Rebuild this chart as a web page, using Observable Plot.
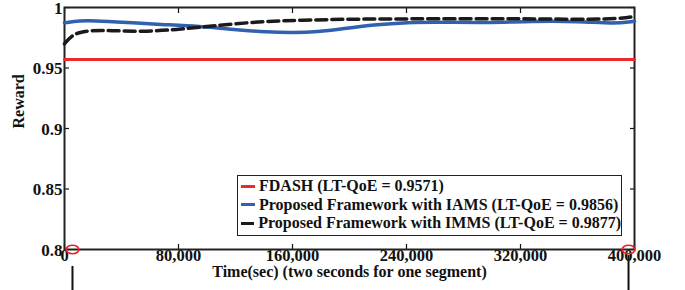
<!DOCTYPE html>
<html>
<head>
<meta charset="utf-8">
<script src="https://cdn.jsdelivr.net/npm/d3@7"></script>
<script src="https://cdn.jsdelivr.net/npm/@observablehq/plot@0.6"></script>
<style>
  body { margin: 0; background: #fff; }
  #wrap { position: relative; width: 685px; height: 290px; }
  #legend {
    position: absolute; left: 237px; top: 175px; width: 383px; height: 58px;
    border: 1.5px solid #222; background: #fff; box-sizing: content-box;
    font: bold 16px "Liberation Serif", "Times New Roman", serif; color: #111;
    padding-top: 1px;
  }
  #legend .row { display: flex; align-items: center; height: 18.5px; white-space: nowrap; }
  #legend .sw { width: 14px; height: 3px; margin: 0 4px 0 3px; }
</style>
</head>
<body>
<div id="wrap"></div>
<script>
// ---- data ----
const seriesLabels = [
  "FDASH (LT-QoE = 0.9571)",
  "Proposed Framework with IAMS (LT-QoE = 0.9856)",
  "Proposed Framework with IMMS (LT-QoE = 0.9877)"
];
const seriesColors = ["#ec2a2b", "#3061ae", "#1a1a1a"];

const fdashX = [0, 400000];
const fdashY = [0.957, 0.957];

const iamsX = [0, 11000, 20000, 44000, 67000, 95000, 119000, 142000, 161000, 178000, 194000, 217000, 241000, 264000, 299000, 327000, 362000, 385000, 400000];
const iamsY = [0.9874, 0.9891, 0.9892, 0.9876, 0.9860, 0.9845, 0.9818, 0.9797, 0.9791, 0.9800, 0.9822, 0.9857, 0.9878, 0.9879, 0.9874, 0.9886, 0.9886, 0.9866, 0.9886];

const immsX = [0, 5000, 11000, 18000, 32000, 55000, 79000, 100000, 119000, 142000, 166000, 199000, 241000, 299000, 327000, 385000, 400000];
const immsY = [0.970, 0.9769, 0.9796, 0.9810, 0.9810, 0.9800, 0.9818, 0.9843, 0.9865, 0.9886, 0.9895, 0.9904, 0.9906, 0.9909, 0.9906, 0.9900, 0.9926];

const xTicks = [0, 80000, 160000, 240000, 320000, 400000];
const yTicks = [0.8, 0.85, 0.9, 0.95, 1];
const yTickLabels = ["0.8", "0.85", "0.9", "0.95", "1"];

// annotation markers (red circles on the x axis and black lines below)
const markerX = [5600, 395800];
const markerY = [0.8, 0.8];
const markerLineTop = [0.786, 0.795];
const markerLineBottom = [0.76, 0.76];

const xLabel = "Time(sec) (two seconds for one segment)";
const yLabel = "Reward";

// ---- build tables ----
const series = [
  {x: fdashX, y: fdashY},
  {x: iamsX, y: iamsY},
  {x: immsX, y: immsY}
].map((s, i) => s.x.map((x, j) => ({x, y: s.y[j], k: i})));

const markers = markerX.map((x, i) => ({x, y: markerY[i], y1: markerLineTop[i], y2: markerLineBottom[i]}));

const ellipse = {
  draw(ctx) {
    const rx = 6.5, ry = 4.2, k = 0.5523;
    ctx.moveTo(rx, 0);
    ctx.bezierCurveTo(rx, ry * k, rx * k, ry, 0, ry);
    ctx.bezierCurveTo(-rx * k, ry, -rx, ry * k, -rx, 0);
    ctx.bezierCurveTo(-rx, -ry * k, -rx * k, -ry, 0, -ry);
    ctx.bezierCurveTo(rx * k, -ry, rx, -ry * k, rx, 0);
    ctx.closePath();
  }
};

const fmtX = d3.format(",");
const fmtY = d => yTickLabels[yTicks.indexOf(d)];
const font = "'Liberation Serif', 'Times New Roman', serif";

const chart = Plot.plot({
  width: 685,
  height: 290,
  marginLeft: 64,
  marginRight: 51,
  marginTop: 7,
  marginBottom: 41,
  style: {fontFamily: font, fontSize: "17px", fontWeight: "bold", color: "#111", background: "white"},
  x: {domain: [0, 400000]},
  y: {domain: [0.8, 1]},
  marks: [
    // tick labels
    Plot.axisX(xTicks, {anchor: "bottom", tickSize: 0, tickPadding: 0, tickFormat: fmtX, label: null, fontSize: 16.5}),
    Plot.axisY(yTicks, {anchor: "left", tickSize: 0, tickPadding: 2, tickFormat: fmtY, label: null, fontSize: 17, dy: 1}),
    // inward tick marks on all four sides
    Plot.axisX(xTicks, {anchor: "bottom", tickSize: -5, tickFormat: () => "", label: null, strokeWidth: 1.2}),
    Plot.axisX(xTicks, {anchor: "top", tickSize: -5, tickFormat: () => "", label: null, strokeWidth: 1.2}),
    Plot.axisY(yTicks, {anchor: "left", tickSize: -5, tickFormat: () => "", label: null, strokeWidth: 1.2}),
    Plot.axisY(yTicks, {anchor: "right", tickSize: -5, tickFormat: () => "", label: null, strokeWidth: 1.2}),
    Plot.frame({stroke: "#222", strokeWidth: 2}),
    // series
    Plot.line(series[0], {x: "x", y: "y", stroke: seriesColors[0], strokeWidth: 3}),
    Plot.line(series[1], {x: "x", y: "y", stroke: seriesColors[1], strokeWidth: 3.5, curve: "basis"}),
    Plot.line(series[2], {x: "x", y: "y", stroke: seriesColors[2], strokeWidth: 3.5, curve: "basis", strokeDasharray: "11,5"}),
    // markers
    Plot.ruleX(markers, {x: "x", y1: "y1", y2: "y2", stroke: "#111", strokeWidth: 2}),
    Plot.dot(markers, {x: "x", y: "y", symbol: ellipse, stroke: "#e8232a", strokeWidth: 1.6, fill: "none"}),
    // axis titles
    Plot.text([xLabel], {frameAnchor: "bottom", dy: 27, text: d => d, fontSize: 16, fontWeight: "bold"}),
    Plot.text([yLabel], {frameAnchor: "left", dx: -46, rotate: -90, text: d => d, fontSize: 16, fontWeight: "bold"})
  ]
});

const wrap = document.getElementById("wrap");
wrap.appendChild(chart);

const legend = document.createElement("div");
legend.id = "legend";
seriesLabels.forEach((lab, i) => {
  const row = document.createElement("div");
  row.className = "row";
  const sw = document.createElement("span");
  sw.className = "sw";
  sw.style.background = seriesColors[i];
  const t = document.createElement("span");
  t.textContent = lab;
  row.appendChild(sw);
  row.appendChild(t);
  legend.appendChild(row);
});
wrap.appendChild(legend);
</script>
</body>
</html>
